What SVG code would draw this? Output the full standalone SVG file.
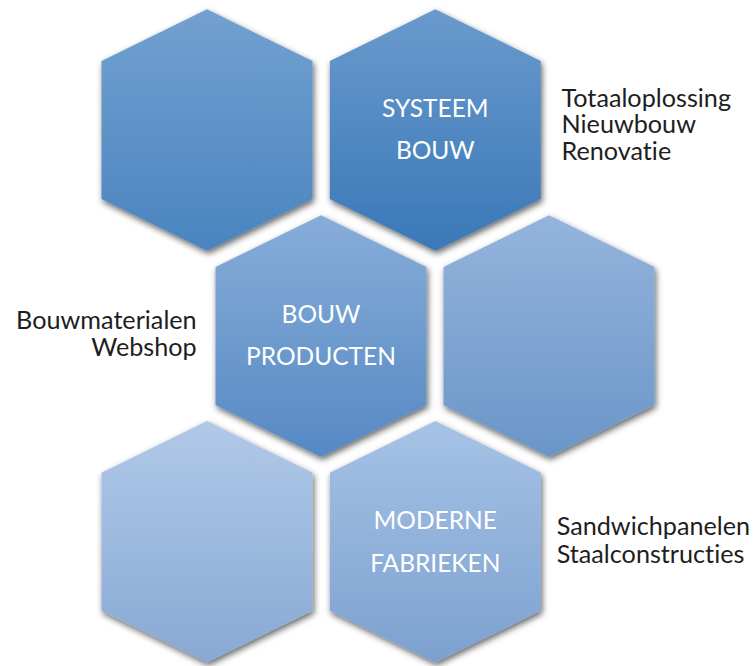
<svg xmlns="http://www.w3.org/2000/svg" xmlns:xlink="http://www.w3.org/1999/xlink" width="756" height="666" viewBox="0 0 756 666">
  <style>
    text { font-variant-ligatures: none; font-feature-settings: "liga" 0, "dlig" 0; }
    .hl { font-family: Lato, "Open Sans", "Liberation Sans", sans-serif; font-size: 24.5px; fill: #ffffff; text-anchor: middle; }
    .side { font-family: Lato, "Open Sans", "Liberation Sans", sans-serif; font-size: 25.2px; fill: #1e1e1e; }
  </style>
  <defs>
    <polygon id="hex" points="0,-120.7 105.5,-69 105.5,69 0,120.7 -105.5,69 -105.5,-69"/>
    <filter id="sh" x="-20%" y="-20%" width="140%" height="140%">
      <feDropShadow dx="1.5" dy="3" stdDeviation="3" flood-color="#000" flood-opacity="0.6"/>
    </filter>
    <linearGradient id="g1" x1="0" y1="0" x2="0" y2="1"><stop offset="0" stop-color="#72a1d0"/><stop offset="1" stop-color="#4a84bf"/></linearGradient>
    <linearGradient id="g2" x1="0" y1="0" x2="0" y2="1"><stop offset="0" stop-color="#6a9acc"/><stop offset="1" stop-color="#3a78b8"/></linearGradient>
    <linearGradient id="g3" x1="0" y1="0" x2="0" y2="1"><stop offset="0" stop-color="#87add9"/><stop offset="1" stop-color="#5689c3"/></linearGradient>
    <linearGradient id="g4" x1="0" y1="0" x2="0" y2="1"><stop offset="0" stop-color="#94b4dc"/><stop offset="1" stop-color="#6a96c8"/></linearGradient>
    <linearGradient id="g5" x1="0" y1="0" x2="0" y2="1"><stop offset="0" stop-color="#b1c9e8"/><stop offset="1" stop-color="#88a9d4"/></linearGradient>
    <linearGradient id="g6" x1="0" y1="0" x2="0" y2="1"><stop offset="0" stop-color="#a6c2e6"/><stop offset="1" stop-color="#7ca1cf"/></linearGradient>
  </defs>
  <rect width="756" height="666" fill="#ffffff"/>

  <g id="hex-top-left">
    <use xlink:href="#hex" transform="translate(207,130)" fill="url(#g1)" filter="url(#sh)"/>
  </g>
  <g id="systeem-bouw">
    <use xlink:href="#hex" transform="translate(435.3,130)" fill="url(#g2)" filter="url(#sh)"/>
    <text class="hl" x="435.3" y="117">SYSTEEM</text>
    <text class="hl" x="435.3" y="159">BOUW</text>
  </g>
  <g id="bouw-producten">
    <use xlink:href="#hex" transform="translate(321,336)" fill="url(#g3)" filter="url(#sh)"/>
    <text class="hl" x="321" y="323">BOUW</text>
    <text class="hl" x="321" y="365">PRODUCTEN</text>
  </g>
  <g id="hex-mid-right">
    <use xlink:href="#hex" transform="translate(549,336)" fill="url(#g4)" filter="url(#sh)"/>
  </g>
  <g id="hex-bottom-left">
    <use xlink:href="#hex" transform="translate(207,541.7)" fill="url(#g5)" filter="url(#sh)"/>
  </g>
  <g id="moderne-fabrieken">
    <use xlink:href="#hex" transform="translate(435.3,541.7)" fill="url(#g6)" filter="url(#sh)"/>
    <text class="hl" x="435.3" y="529">MODERNE</text>
    <text class="hl" x="435.3" y="571.5">FABRIEKEN</text>
  </g>

  <g id="label-systeem">
    <text class="side" x="561.5" y="106.7">Totaaloplossing</text>
    <text class="side" x="561.5" y="133.3">Nieuwbouw</text>
    <text class="side" x="561.5" y="160">Renovatie</text>
  </g>
  <g id="label-producten">
    <text class="side" x="196.7" y="329.3" text-anchor="end">Bouwmaterialen</text>
    <text class="side" x="196.7" y="356" text-anchor="end">Webshop</text>
  </g>
  <g id="label-fabrieken">
    <text class="side" x="556.7" y="535">Sandwichpanelen</text>
    <text class="side" x="556.7" y="563.3">Staalconstructies</text>
  </g>
</svg>
